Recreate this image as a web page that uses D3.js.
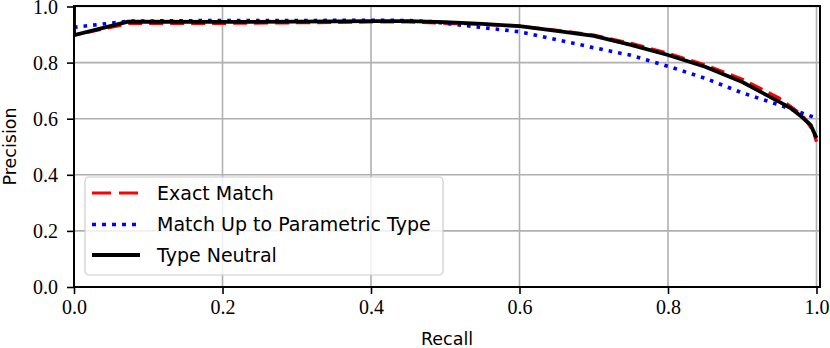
<!DOCTYPE html>
<html>
<head>
<meta charset="utf-8">
<script src="https://cdn.jsdelivr.net/npm/d3@7"></script>
<style>
  body { margin: 0; background: #fff; }
  svg { display: block; }
</style>
</head>
<body>
<div id="container"></div>
<script>
// recall / precision readings
const exactRecall    = [0, 0, 0.075, 0.2, 0.3, 0.4, 0.45, 0.5, 0.55, 0.6, 0.65, 0.7, 0.75, 0.8, 0.85, 0.9, 0.95, 0.98, 0.995, 1.0];
const exactPrecision = [1.0, 0.898, 0.94, 0.94, 0.942, 0.945, 0.945, 0.94, 0.937, 0.93, 0.915, 0.898, 0.869, 0.833, 0.792, 0.741, 0.673, 0.615, 0.56, 0.518];

const paramRecall    = [0, 0.075, 0.2, 0.3, 0.4, 0.45, 0.48, 0.5, 0.55, 0.6, 0.65, 0.7, 0.75, 0.8, 0.85, 0.9, 0.95, 1.0];
const paramPrecision = [0.926, 0.948, 0.95, 0.95, 0.951, 0.95, 0.946, 0.94, 0.925, 0.91, 0.882, 0.853, 0.826, 0.787, 0.744, 0.692, 0.649, 0.602];

const neutralRecall    = [0, 0, 0.073, 0.2, 0.3, 0.4, 0.45, 0.5, 0.55, 0.6, 0.65, 0.7, 0.75, 0.8, 0.85, 0.9, 0.95, 0.965, 0.98, 0.992, 1.0];
const neutralPrecision = [1.0, 0.898, 0.946, 0.945, 0.946, 0.948, 0.948, 0.944, 0.938, 0.93, 0.913, 0.895, 0.863, 0.827, 0.785, 0.731, 0.66, 0.638, 0.607, 0.578, 0.531];

const seriesNames = ['Exact Match', 'Match Up to Parametric Type', 'Type Neutral'];
const xTicks = [0, 0.2, 0.4, 0.6, 0.8, 1.0];
const yTicks = [0, 0.2, 0.4, 0.6, 0.8, 1.0];

const width = 830, height = 348;
const margin = {left: 74, top: 6, right: 10, bottom: 61};

const svg = d3.select('#container').append('svg')
  .attr('width', width)
  .attr('height', height);

const xScale = d3.scaleLinear().domain([0, 1.0047]).range([margin.left, width - margin.right]);
const yScale = d3.scaleLinear().domain([0, 1.0]).range([height - margin.bottom, margin.top + 0.5]);

const serif = "'Liberation Serif', 'DejaVu Serif', serif";
const sans = "'DejaVu Sans', sans-serif";

// grid
svg.append('g').selectAll('line.gx')
  .data(xTicks.slice(1))
  .enter().append('line')
  .attr('x1', d => xScale(d)).attr('x2', d => xScale(d))
  .attr('y1', margin.top).attr('y2', height - margin.bottom)
  .attr('stroke', '#b0b0b0').attr('stroke-width', 1.6);
svg.append('g').selectAll('line.gy')
  .data(yTicks.slice(1))
  .enter().append('line')
  .attr('x1', margin.left).attr('x2', width - margin.right)
  .attr('y1', d => yScale(d)).attr('y2', d => yScale(d))
  .attr('stroke', '#b0b0b0').attr('stroke-width', 1.6);

svg.append('clipPath').attr('id', 'plotclip')
  .append('rect')
  .attr('x', margin.left).attr('y', margin.top)
  .attr('width', width - margin.right - margin.left)
  .attr('height', height - margin.bottom - margin.top);

const line = d3.line().x(d => xScale(d[0])).y(d => yScale(d[1]));

const series = [
  {rec: exactRecall, prec: exactPrecision, color: '#ff0000', width: 3.2, dash: '14,7'},
  {rec: paramRecall, prec: paramPrecision, color: '#0000ff', width: 3.6, dash: '3.6,6'},
  {rec: neutralRecall, prec: neutralPrecision, color: '#000000', width: 3.8, dash: null}
];

const plot = svg.append('g').attr('clip-path', 'url(#plotclip)');
series.forEach(s => {
  plot.append('path')
    .datum(s.rec.map((r, i) => [r, s.prec[i]]))
    .attr('d', line)
    .attr('fill', 'none')
    .attr('stroke', s.color)
    .attr('stroke-width', s.width)
    .attr('stroke-dasharray', s.dash)
    .attr('stroke-linejoin', 'round');
});

// axes
const xAxis = d3.axisBottom(xScale).tickValues(xTicks).tickFormat(d3.format('.1f')).tickSize(7).tickPadding(6);
const gx = svg.append('g')
  .attr('transform', `translate(0, ${height - margin.bottom})`)
  .call(xAxis);
const yAxis = d3.axisLeft(yScale).tickValues(yTicks).tickFormat(d3.format('.1f')).tickSize(7).tickPadding(9);
const gy = svg.append('g')
  .attr('transform', `translate(${margin.left}, 0)`)
  .call(yAxis);

[gx, gy].forEach(g => {
  g.select('.domain').remove();
  g.selectAll('.tick line').attr('stroke', '#000').attr('stroke-width', 1.6);
  g.selectAll('.tick text').style('font-family', serif).style('font-size', '20px').attr('fill', '#000');
});
gy.selectAll('.tick text').attr('dy', '0.34em');

// spines
svg.append('rect')
  .attr('x', margin.left).attr('y', margin.top)
  .attr('width', width - margin.right - margin.left)
  .attr('height', height - margin.bottom - margin.top)
  .attr('fill', 'none').attr('stroke', '#000').attr('stroke-width', 2);

svg.append('text')
  .attr('x', (margin.left + width - margin.right) / 2)
  .attr('y', 345)
  .attr('text-anchor', 'middle')
  .style('font-family', sans).style('font-size', '17.5px')
  .text('Recall');

svg.append('text')
  .attr('transform', `translate(16, ${(margin.top + height - margin.bottom) / 2}) rotate(-90)`)
  .attr('text-anchor', 'middle')
  .style('font-family', sans).style('font-size', '17.5px')
  .text('Precision');

// legend
const legend = svg.append('g');
legend.append('rect')
  .attr('x', 85).attr('y', 177)
  .attr('width', 358).attr('height', 98)
  .attr('rx', 4)
  .attr('fill', 'rgba(255,255,255,0.8)')
  .attr('stroke', '#cccccc').attr('stroke-width', 1.2);

const rowY = [193, 224.5, 255];
series.forEach((s, i) => {
  legend.append('line')
    .attr('x1', 92).attr('x2', 140)
    .attr('y1', rowY[i]).attr('y2', rowY[i])
    .attr('stroke', s.color)
    .attr('stroke-width', s.width)
    .attr('stroke-dasharray', s.dash ? (i === 0 ? '19,8' : '4,6') : null);
  legend.append('text')
    .attr('x', 157).attr('y', rowY[i])
    .attr('dy', '0.36em')
    .style('font-family', sans).style('font-size', '19px')
    .text(seriesNames[i]);
});
</script>
</body>
</html>
